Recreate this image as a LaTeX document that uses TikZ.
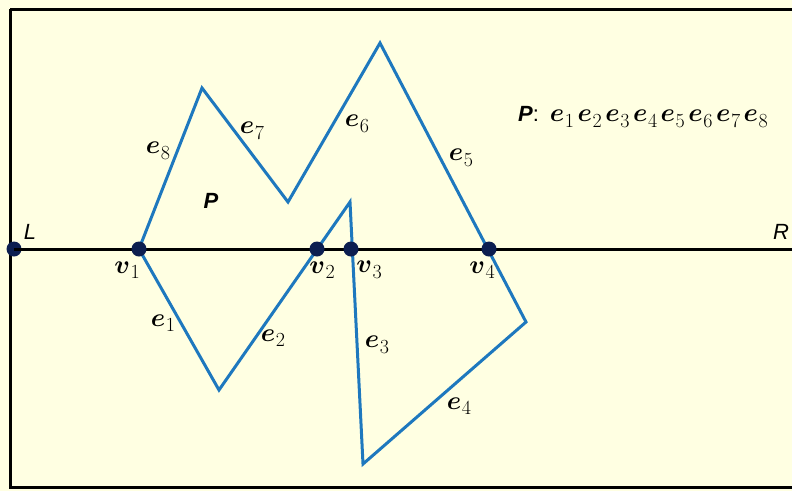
\RequirePackage{fix-cm}
\documentclass[tikz,border=0pt]{standalone}
\usepackage{fontspec}
\usepackage{amsmath,bm}
\newfontfamily\arialf{Liberation Sans}
\definecolor{bgc}{RGB}{255,255,226}
\definecolor{edgec}{RGB}{30,120,190}
\definecolor{dotc}{RGB}{12,30,80}
\newcommand\sbl[2]{\ensuremath{\bm{#1}}\kern0.6pt\raisebox{-5.5pt}{\fontsize{20}{22}\selectfont #2}}
\begin{document}
\begin{tikzpicture}[x=1pt,y=-1pt,
  edge/.style={draw=edgec,line width=3pt,line join=miter},
  dotn/.style={circle,fill=dotc,inner sep=0pt,minimum size=15pt},
  lab/.style={inner sep=0pt,font=\fontsize{26}{30}\selectfont},
  slab/.style={inner sep=0pt,font=\fontsize{22}{24}\selectfont\arialf\itshape}]
\fill[bgc] (0,0) rectangle (792,491);
\useasboundingbox (0,0) rectangle (792,491);
\begin{scope}
\clip (0,0) rectangle (792,491);
\draw[line width=3pt] (10,9) -- (800,9) (10,9) -- (10,487) -- (800,487);
\end{scope}
% polygon corners
\coordinate (a) at (219,390);
\coordinate (b) at (350,202);
\coordinate (c) at (363,464);
\coordinate (d) at (526,322);
\coordinate (f) at (380,43);
\coordinate (g) at (288,202);
\coordinate (h) at (202,88);
\coordinate (Rend) at (792,249);
% line L-R
\node[dotn] (L) at (14,249) {};
\draw[line width=3pt] (L.center) -- (Rend);
\draw[edge] (139,249) -- (a) -- (b) -- (c) -- (d) -- (f) -- (g) -- (h) -- cycle;
\node[dotn] (v1) at (139,249) {};
\node[dotn] (v2) at (317,249) {};
\node[dotn] (v3) at (351,249) {};
\node[dotn] (v4) at (489,249) {};
% labels
\node[slab] at (30,232) {L};
\node[slab] at (781,232) {R};
\node[slab,font=\fontsize{22}{24}\selectfont\arialf\bfseries\itshape] at (211,201) {P};
\node[lab] at (127,270) {\sbl{v}{1}};
\node[lab] at (322,270) {\sbl{v}{2}};
\node[lab] at (369,270) {\sbl{v}{3}};
\node[lab] at (482,270) {\sbl{v}{4}};
\node[lab] at (163,323) {\sbl{e}{1}};
\node[lab] at (273,338) {\sbl{e}{2}};
\node[lab] at (377,345) {\sbl{e}{3}};
\node[lab] at (459,406) {\sbl{e}{4}};
\node[lab] at (461,158) {\sbl{e}{5}};
\node[lab] at (357,124) {\sbl{e}{6}};
\node[lab] at (252,131) {\sbl{e}{7}};
\node[lab] at (158,151) {\sbl{e}{8}};
\node[lab,anchor=west] at (518,117) {{\fontsize{22}{24}\selectfont\arialf\bfseries\itshape P}{\fontsize{22}{24}\selectfont\arialf:}\kern11pt\sbl{e}{1}\kern3.5pt\sbl{e}{2}\kern3.5pt\sbl{e}{3}\kern3.5pt\sbl{e}{4}\kern3.5pt\sbl{e}{5}\kern3.5pt\sbl{e}{6}\kern3.5pt\sbl{e}{7}\kern3.5pt\sbl{e}{8}};
\end{tikzpicture}
\end{document}
